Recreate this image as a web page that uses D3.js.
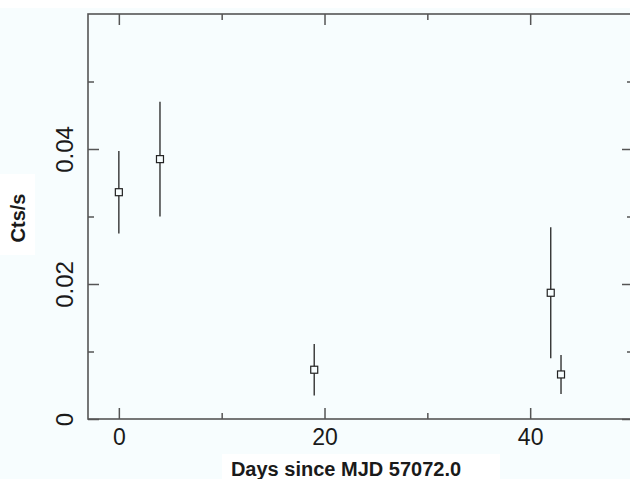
<!DOCTYPE html>
<html>
<head>
<meta charset="utf-8">
<script src="https://cdn.jsdelivr.net/npm/d3@7"></script>
<style>
  html, body { margin: 0; padding: 0; background: #ffffff; }
  svg { display: block; }
  text { font-family: "Liberation Sans", Arial, Helvetica, sans-serif; fill: #1a1a1a; }
</style>
</head>
<body>
<svg id="chart" width="630" height="479"></svg>
<script>
// Light-curve points: days since MJD 57072.0, count rate and 1-sigma error
const days = [0, 4, 19, 42, 43];
const rate = [0.0336, 0.0385, 0.0073, 0.0187, 0.0066];
const rateErr = [0.0061, 0.0085, 0.0038, 0.0097, 0.0029];

// Axis ticks
const xMajor = [0, 20, 40];
const xMinor = [10, 30];
const yMajor = [0, 0.02, 0.04];
const yMinor = [0.01, 0.03, 0.05];
const yTickLabels = ["0", "0.02", "0.04"];

const xTitle = "Days since MJD 57072.0";
const yTitle = "Cts/s";

const W = 630, H = 479;
const frame = { left: 88, right: 633, top: 14, bottom: 419 };
const bg = "#f7fdfe";
const axisColor = "#555555";

const x = d3.scaleLinear().domain([-3, 50]).range([frame.left, frame.right]);
const y = d3.scaleLinear().domain([0, 0.06]).range([frame.bottom, frame.top]);

const svg = d3.select("#chart");

// page background with plain white panels under the titles
svg.append("rect").attr("width", W).attr("height", H).attr("fill", bg);
svg.append("rect").attr("x", 0).attr("y", 0).attr("width", W).attr("height", 8).attr("fill", "#ffffff");
svg.append("rect").attr("x", 0).attr("y", 174).attr("width", 35).attr("height", 81).attr("fill", "#ffffff");
svg.append("rect").attr("x", 222).attr("y", 454).attr("width", 278).attr("height", 25).attr("fill", "#ffffff");

// axes: ticks point into the frame on all four sides
function styleAxis(g) {
  g.select(".domain").remove();
  g.selectAll(".tick line").attr("stroke", axisColor).attr("stroke-width", 1.5);
}

const bottomMajor = svg.append("g").attr("transform", `translate(0,${frame.bottom})`)
  .call(d3.axisBottom(x).tickValues(xMajor).tickSize(-11).tickFormat(d3.format("d")));
styleAxis(bottomMajor);
bottomMajor.selectAll(".tick text")
  .attr("y", 26).attr("dy", 0).attr("font-size", 23).attr("fill", "#1a1a1a");

svg.append("g").attr("transform", `translate(0,${frame.bottom})`)
  .call(d3.axisBottom(x).tickValues(xMinor).tickSize(-6).tickFormat(""))
  .call(styleAxis);

svg.append("g").attr("transform", `translate(0,${frame.top})`)
  .call(d3.axisTop(x).tickValues(xMajor).tickSize(-11).tickFormat(""))
  .call(styleAxis);
svg.append("g").attr("transform", `translate(0,${frame.top})`)
  .call(d3.axisTop(x).tickValues(xMinor).tickSize(-6).tickFormat(""))
  .call(styleAxis);

const leftMajor = svg.append("g").attr("transform", `translate(${frame.left},0)`)
  .call(d3.axisLeft(y).tickValues(yMajor).tickSize(-11)
    .tickFormat((d, i) => yTickLabels[i]));
styleAxis(leftMajor);
leftMajor.selectAll(".tick text")
  .attr("transform", "rotate(-90)")
  .attr("x", 0).attr("y", -15).attr("dy", 0)
  .attr("text-anchor", "middle")
  .attr("font-size", 24).attr("fill", "#1a1a1a");

svg.append("g").attr("transform", `translate(${frame.left},0)`)
  .call(d3.axisLeft(y).tickValues(yMinor).tickSize(-6).tickFormat(""))
  .call(styleAxis);

svg.append("g").attr("transform", `translate(${frame.right},0)`)
  .call(d3.axisRight(y).tickValues(yMajor).tickSize(-11).tickFormat(""))
  .call(styleAxis);
svg.append("g").attr("transform", `translate(${frame.right},0)`)
  .call(d3.axisRight(y).tickValues(yMinor).tickSize(-6).tickFormat(""))
  .call(styleAxis);

// frame
svg.append("rect")
  .attr("x", frame.left).attr("y", frame.top)
  .attr("width", frame.right - frame.left).attr("height", frame.bottom - frame.top)
  .attr("fill", "none").attr("stroke", axisColor).attr("stroke-width", 1.6);

// error bars
const pts = days.map((d, i) => ({ day: d, rate: rate[i], err: rateErr[i] }));
svg.append("g").selectAll("line").data(pts).join("line")
  .attr("x1", d => x(d.day)).attr("x2", d => x(d.day))
  .attr("y1", d => y(d.rate + d.err)).attr("y2", d => y(d.rate - d.err))
  .attr("stroke", "#333333").attr("stroke-width", 1.4);

// open square markers
const s = 7;
svg.append("g").selectAll("rect").data(pts).join("rect")
  .attr("x", d => x(d.day) - s / 2).attr("y", d => y(d.rate) - s / 2)
  .attr("width", s).attr("height", s)
  .attr("fill", bg).attr("stroke", "#222222").attr("stroke-width", 1.2);

// axis titles
svg.append("text")
  .attr("x", 346).attr("y", 476)
  .attr("text-anchor", "middle")
  .attr("font-size", 20).attr("font-weight", "bold").attr("fill", "#333333")
  .text(xTitle);

svg.append("text")
  .attr("transform", "translate(25,218) rotate(-90)")
  .attr("text-anchor", "middle")
  .attr("font-size", 20).attr("font-weight", "bold").attr("fill", "#333333")
  .text(yTitle);
</script>
</body>
</html>
